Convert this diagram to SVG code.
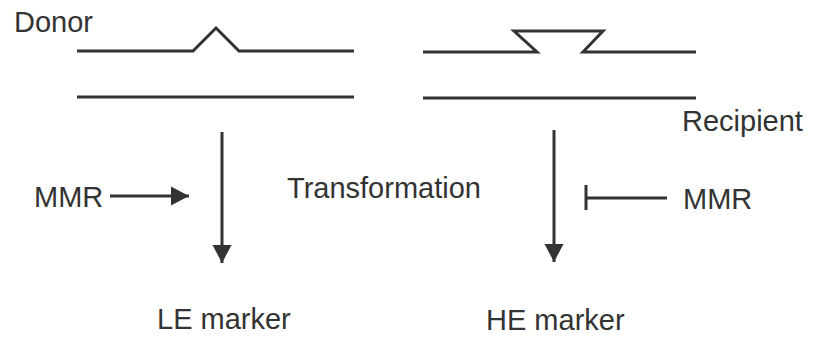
<svg xmlns="http://www.w3.org/2000/svg" width="813" height="341" viewBox="0 0 813 341">
  <style>
    .strand { fill: none; stroke: #333; stroke-width: 3; stroke-linejoin: miter; }
    .conn { fill: none; stroke: #333; stroke-width: 3; }
    .lbl { font-family: "Liberation Sans", Arial, sans-serif; font-size: 29px; fill: #333; }
  </style>
  <defs>
    <marker id="arrow" markerUnits="userSpaceOnUse" markerWidth="20" markerHeight="20" refX="18" refY="10" orient="auto">
      <path d="M0,0.5 L18,10 L0,19.5 Z" fill="#333"/>
    </marker>
  </defs>

  <rect width="813" height="341" fill="#fff"/>

  <g id="donor">
    <text class="lbl" x="14" y="32">Donor</text>
    <path class="strand" d="M77,51 H193 L216,28 L239,51 H354"/>
    <path class="strand" d="M77,97 H354"/>
  </g>

  <g id="recipient">
    <path class="strand" d="M423,52 H537 L514,31 H603 L583,52 H696"/>
    <path class="strand" d="M423,98 H696"/>
    <text class="lbl" x="682" y="131">Recipient</text>
  </g>

  <g id="transformation">
    <text class="lbl" x="287" y="198">Transformation</text>
  </g>

  <g id="mmr-left">
    <text class="lbl" x="34" y="207">MMR</text>
  </g>

  <g id="mmr-right">
    <text class="lbl" x="683" y="209">MMR</text>
  </g>

  <g id="le-marker">
    <text class="lbl" x="157" y="329">LE marker</text>
  </g>

  <g id="he-marker">
    <text class="lbl" x="486" y="330">HE marker</text>
  </g>

  <g id="connectors">
    <line class="conn" x1="222" y1="132" x2="222" y2="263" marker-end="url(#arrow)"/>
    <line class="conn" x1="110" y1="196" x2="189" y2="196" marker-end="url(#arrow)"/>
    <line class="conn" x1="554" y1="130" x2="554" y2="262" marker-end="url(#arrow)"/>
    <line class="conn" x1="586" y1="198" x2="667" y2="198"/>
    <line class="conn" x1="586" y1="185" x2="586" y2="210"/>
  </g>
</svg>
